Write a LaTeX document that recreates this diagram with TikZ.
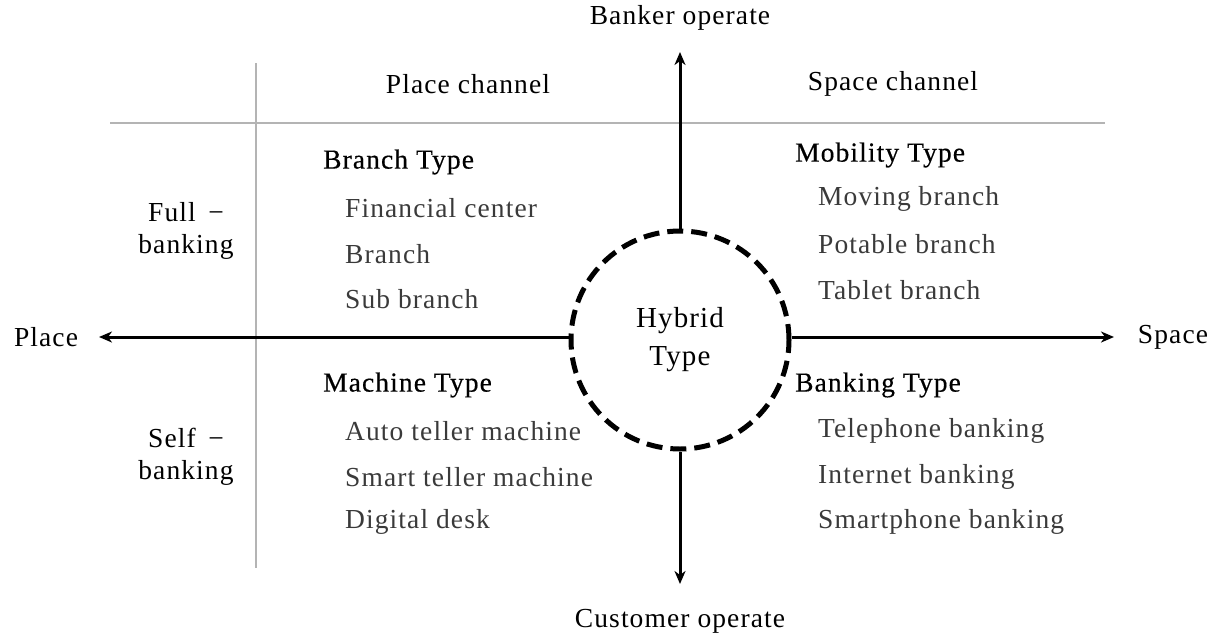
\documentclass[tikz,border=0pt]{standalone}
\usepackage{fontspec}
\setmainfont{Liberation Serif}[LetterSpace=4]
\newfontfamily\titlefam{Liberation Serif}[LetterSpace=4,FakeBold=0.4]
\usetikzlibrary{arrows.meta}
\definecolor{itemgray}{HTML}{3A3A3A}
\definecolor{linegray}{HTML}{B4B4B4}
\tikzset{
  lbl/.style={font=\fontsize{27.5}{30}\selectfont, inner sep=0pt, text=black},
  title/.style={lbl, font=\titlefam\fontsize{27.5}{30}\selectfont, anchor=west},
  item/.style={lbl, anchor=west, text=itemgray},
  axis/.style={line width=3pt, -{Stealth[length=13pt,width=11pt,inset=4pt]}},
  grid/.style={line width=1.6pt, draw=linegray},
}
\begin{document}
\begin{tikzpicture}[x=1pt,y=-1pt]
\useasboundingbox (0,0) rectangle (1221,638);
% grid lines
\draw[grid] (110,123) -- (1105,123);
\draw[grid] (256,63) -- (256,568);
% circle
\node[circle, draw, line width=5pt, dash pattern=on 16pt off 8pt, minimum size=218pt, inner sep=0pt] (hyb) at (680,340) {};
\node[lbl, font=\fontsize{29}{32}\selectfont, align=center] (hybt) at (680,340) {Hybrid\\[6pt]Type};
% axis labels
\node[lbl] (banker) at (680,18) {Banker operate};
\node[lbl] (cust) at (680,621) {Customer operate};
\node[lbl] (place) at (46,337) {Place};
\node[lbl] (space) at (1173,337) {Space};
\coordinate (topE) at (680,52);
\coordinate (botE) at (680,584);
\coordinate (leftE) at (99,337);
\coordinate (rightE) at (1114,337);
\draw[axis] (hyb.north) -- (topE);
\draw[axis] (hyb.south) -- (botE);
\draw[axis] (hyb.west |- 0,337) -- (leftE);
\draw[axis] (hyb.east |- 0,337) -- (rightE);
% headers
\node[lbl] (pc) at (468,84) {Place channel};
\node[lbl] (sc) at (893,84) {Space channel};
\node[lbl, align=center] (full) at (186,231) {Full \,−\\[2pt]banking};
\node[lbl, align=center] (self) at (186,457) {Self \,−\\[2pt]banking};
% quadrant lists
\node[title] (bt) at (323,162) {Branch Type};
\node[item] (b1) at (345,208) {Financial center};
\node[item] (b2) at (345,254) {Branch};
\node[item] (b3) at (345,299) {Sub branch};
\node[title] (mt) at (795,155) {Mobility Type};
\node[item] (m1) at (818,199) {Moving branch};
\node[item] (m2) at (818,244) {Potable branch};
\node[item] (m3) at (818,290) {Tablet branch};
\node[title] (mat) at (323,385) {Machine Type};
\node[item] (a1) at (345,431) {Auto teller machine};
\node[item] (a2) at (345,477) {Smart teller machine};
\node[item] (a3) at (345,522) {Digital desk};
\node[title] (bkt) at (795,385) {Banking Type};
\node[item] (k1) at (818,431) {Telephone banking};
\node[item] (k2) at (818,477) {Internet banking};
\node[item] (k3) at (818,522) {Smartphone banking};
\end{tikzpicture}
\end{document}
